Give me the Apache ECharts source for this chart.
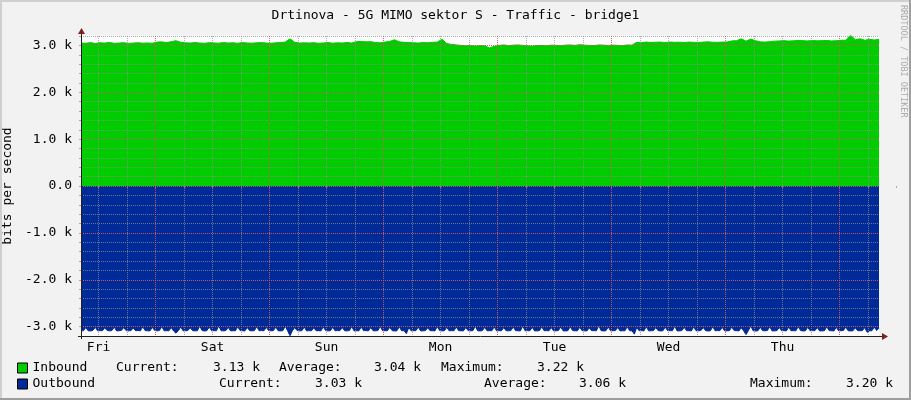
<!DOCTYPE html>
<html>
<head>
<meta charset="utf-8">
<script src="https://cdn.jsdelivr.net/npm/echarts@6/dist/echarts.min.js"></script>
<style>
html,body{margin:0;padding:0;background:#F2F2F2;}
#c{width:911px;height:400px;}
</style>
</head>
<body>
<div id="c"></div>
<script>
// ---- data (bits per second) ----
const titleText = 'Drtinova - 5G MIMO sektor S - Traffic - bridge1';
const yAxisName = 'bits per second';
const startHour = 8.3;            // hours since Friday 00:00 at left edge
const inboundStepHours = 1;
const outboundStepHours = 0.5;
const dayNames = ['Fri', 'Sat', 'Sun', 'Mon', 'Tue', 'Wed', 'Thu'];
const dayCenters = [12, 36, 60, 84, 108, 132, 156];
const minorHourStep = 6;          // grey grid every 6 hours
const majorHourStep = 24;         // red grid at midnight
const yMinorStep = 200;
const yMajorStep = 1000;
const yMajorTicks = [-3000, -2000, -1000, 0, 1000, 2000, 3000];
const seriesNames = ['Inbound', 'Outbound'];
const inboundStats = ['3.13 k', '3.04 k', '3.22 k'];
const outboundStats = ['3.03 k', '3.06 k', '3.20 k'];

const inbound = [
  3050,3045,3060,3040,3055,3050,3062,3045,3050,3058,3042,3050,3056,3048,3052,3045,
  3070,3075,3060,3080,3100,3065,3055,3050,3060,
  3050,3045,3058,3052,3048,3060,3050,3055,3045,3062,3050,3048,3055,3060,3050,3045,
  3055,3060,3070,3140,3065,3050,3055,
  3050,3058,3045,3052,3060,3048,3055,3050,3062,3050,
  3080,3085,3075,3080,3060,
  3055,3070,3085,3120,3075,3065,3060,3055,
  3050,3060,3055,3065,3070,
  3130,
  3040,3020,3010,3000,2990,3000,2985,2995,
  2990,2945,2980,3000,3010,2995,
  3005,3010,3000,2990,2985,2995,3000,2990,3005,3000,2995,3005,3010,3000,3015,3005,3000,2995,3010,3005,
  3000,3005,3000,2995,3010,3005,
  3065,3060,3070,3062,3068,3070,3060,3072,3065,3068,3060,3070,3065,3062,3070,3075,3068,3065,3070,3072,
  3095,3100,3140,3090,3135,3100,3075,3070,3080,
  3090,3095,3100,3092,3098,3105,3100,3095,3102,3098,3100,3105,3095,3100,3108,
  3110,3220,3120,3140,3110,3130,3115,3130
];

const outbound = [
  3085,3090,3020,3088, 3092,3080,3015,3090, 3085,3088,3025,3082, 3090,3085,3010,3092,
  3088,3080,3020,3085, 3090,3086,3030,3088, 3082,3090,3005,3085, 3088,3092,3015,3080,
  3090,3085,3000,3088, 3086,3090,3020,3092, 3140,3085,3010,3090, 3088,3082,3025,3086,
  3090,3088,2990,3085, 3092,3086,3010,3090, 3085,3090,2985,3088, 3090,3084,3015,3092,
  3086,3090,3005,3085, 3088,3092,3020,3086, 3090,3085,3000,3088, 3084,3090,3015,3085,
  3090,3086,3010,3088, 3092,3085,2990,3090, 3195,3088,3020,3085, 3090,3086,3010,3092,
  3085,3090,3025,3088, 3086,3092,3005,3085, 3090,3088,3015,3090, 3084,3086,3020,3088,
  3090,3085,3000,3092, 3088,3090,3010,3086, 3085,3092,3020,3088, 3090,3084,2995,3090,
  3086,3088,3015,3085, 3092,3090,3005,3088, 3085,3150,3020,3090, 3088,3086,3010,3092,
  3090,3085,3025,3088, 3086,3092,3000,3085, 3090,3088,3015,3090, 3085,3090,3010,3086,
  3088,3092,3020,3085, 3090,3086,2990,3088, 3092,3085,3015,3090, 3086,3088,3005,3092,
  3085,3090,3020,3088, 3090,3085,3010,3086, 3088,3092,2985,3090, 3085,3088,3015,3092,
  3090,3086,3005,3088, 3085,3090,3020,3092, 3088,3085,3010,3090, 3092,3086,3000,3085,
  3088,3090,3015,3086, 3090,3092,3025,3088, 3085,3090,2980,3086, 3092,3088,3010,3090,
  3086,3085,3020,3092, 3088,3090,3005,3086, 3090,3160,3015,3088, 3085,3092,3000,3090,
  3088,3086,3020,3085, 3092,3090,3010,3088, 3085,3088,2990,3092, 3090,3085,3015,3088,
  3086,3092,3005,3090, 3088,3085,3020,3086, 3092,3090,3000,3088, 3085,3086,3015,3092,
  3090,3088,3010,3085, 3086,3092,3025,3090, 3170,3085,2985,3088, 3092,3090,3015,3086,
  3088,3085,3005,3092, 3090,3086,3020,3088, 3085,3092,3010,3090, 3086,3088,3000,3085,
  3092,3090,3015,3088, 3085,3086,3020,3092, 3090,3088,3005,3085, 3088,3092,3015,3090,
  3086,3085,3010,3088, 3092,3090,3025,3086, 3088,3085,3020,3120, 3090,3088,3010,3085,
  3030
];

// ---- layout / style ----
const FONT = '"DejaVu Sans Mono", "Liberation Mono", monospace';
const GL = 81, GT = 36, GW = 798, GH = 300;
const GRID_C = 'rgba(143,143,143,0.75)';
const MGRID_C = 'rgba(222,79,79,0.75)';
const AXIS_C = '#1F1F1F';
const ARROW_C = '#801F1F';
const IN_C = '#00CC00';
const OUT_C = '#002A97';
const xMin = startHour;
const xMax = startHour + (inbound.length - 1) * inboundStepHours;
const yMin = -3200, yMax = 3200;

const inData = inbound.map((v, i) => [startHour + i * inboundStepHours, v]);
const outData = outbound.map((v, i) => [startHour + i * outboundStepHours, -v]);

// helper grids for grid lines: domains start on multiples of their interval
const pxPerHour = GW / (xMax - xMin);
const pxPerUnit = GH / (yMax - yMin);
const plotX = [xMin, xMax];
const plotY = [yMin, yMax];
const minorX = [Math.floor(xMin / minorHourStep) * minorHourStep, Math.ceil(xMax / minorHourStep) * minorHourStep];
const majorX = [Math.floor(xMin / majorHourStep) * majorHourStep, Math.ceil(xMax / majorHourStep) * majorHourStep];
const majorY = [Math.floor(yMin / yMajorStep) * yMajorStep, Math.ceil(yMax / yMajorStep) * yMajorStep];
function gridBox(xr, yr) {
  return {
    left: GL - (xMin - xr[0]) * pxPerHour,
    width: (xr[1] - xr[0]) * pxPerHour,
    top: GT - (yr[1] - yMax) * pxPerUnit,
    height: (yr[1] - yr[0]) * pxPerUnit,
    show: false, containLabel: false, outerBoundsMode: 'none'
  };
}

function yFmt(v) {
  if (v === 0) return '0.0';
  return (v / 1000).toFixed(1) + ' k';
}

const chart = echarts.init(document.getElementById('c'), null, {renderer: 'canvas'});

const txt = (x, y, s) => ({
  type: 'text', x: x, y: y, z: 10,
  style: {text: s, fill: '#000', font: '13px ' + FONT, verticalAlign: 'middle'}
});

const statsRow1 = [[116, 'Current:'], [213, inboundStats[0]], [279, 'Average:'], [374, inboundStats[1]], [441, 'Maximum:'], [537, inboundStats[2]]];
const statsRow2 = [[219, 'Current:'], [315, outboundStats[0]], [484, 'Average:'], [579, outboundStats[1]], [750, 'Maximum:'], [846, outboundStats[2]]];

const graphics = [
  {type: 'rect', shape: {x: 0, y: 0, width: 911, height: 2}, style: {fill: '#CFCFCF'}, z: 10},
  {type: 'rect', shape: {x: 0, y: 0, width: 2, height: 400}, style: {fill: '#CFCFCF'}, z: 10},
  {type: 'rect', shape: {x: 0, y: 398, width: 911, height: 2}, style: {fill: '#9E9E9E'}, z: 11},
  {type: 'rect', shape: {x: 909, y: 0, width: 2, height: 400}, style: {fill: '#9E9E9E'}, z: 11},
  // axis lines and arrows
  {type: 'line', shape: {x1: GL + 0.5, y1: GT + GH + 3, x2: GL + 0.5, y2: GT - 3}, style: {stroke: AXIS_C, lineWidth: 1}, z: 20},
  {type: 'line', shape: {x1: GL - 3, y1: GT + GH + 0.5, x2: GL + GW + 4, y2: GT + GH + 0.5}, style: {stroke: AXIS_C, lineWidth: 1}, z: 20},
  {type: 'polygon', shape: {points: [[GL - 3, GT - 2], [GL + 4, GT - 2], [GL + 0.5, GT - 8]]}, style: {fill: ARROW_C}, z: 21},
  {type: 'polygon', shape: {points: [[GL + GW + 3, GT + GH - 3], [GL + GW + 3, GT + GH + 4], [GL + GW + 9, GT + GH + 0.5]]}, style: {fill: ARROW_C}, z: 21},
  {type: 'text', x: 903, y: 5, rotation: -Math.PI / 2, z: 10,
   style: {text: 'RRDTOOL / TOBI OETIKER', fill: '#AAAAAA', font: '8.5px ' + FONT, verticalAlign: 'middle', align: 'left'}}
];
statsRow1.forEach(p => graphics.push(txt(p[0], 368, p[1])));
statsRow2.forEach(p => graphics.push(txt(p[0], 384, p[1])));

const dotted = (c) => ({color: c, type: [1, 1], width: 1, opacity: 1});
const hiddenAxis = {axisLine: {show: false}, axisTick: {show: false}, axisLabel: {show: false}};
const noSplit = {splitLine: {show: false}};

const option = {
  backgroundColor: '#F2F2F2',
  animation: false,
  title: {
    text: titleText, left: 'center', top: 4,
    textStyle: {fontFamily: FONT, fontSize: 13, fontWeight: 'normal', color: '#000'}
  },
  legend: {
    orient: 'vertical', left: 17, top: 360, itemWidth: 10, itemHeight: 10, itemGap: 0,
    padding: 0, icon: 'rect', data: seriesNames,
    itemStyle: {borderColor: '#000', borderWidth: 1},
    textStyle: {fontFamily: FONT, fontSize: 13, color: '#000', lineHeight: 16},
    selectedMode: false
  },
  grid: [
    {left: GL, top: GT, width: GW, height: GH, show: true, backgroundColor: '#FFFFFF', borderWidth: 0,
      containLabel: false, outerBoundsMode: 'none'},
    gridBox(minorX, plotY),   // 1: grey verticals every 6 h
    gridBox(majorX, plotY),   // 2: red verticals at midnight
    gridBox(plotX, majorY)    // 3: red horizontals every 1 k
  ],
  xAxis: [
    {
      type: 'value', gridIndex: 0, min: xMin, max: xMax, position: 'bottom', z: 5,
      axisLine: {show: false}, axisTick: {show: false}, splitLine: {show: false},
      axisLabel: {customValues: dayCenters, formatter: v => dayNames[dayCenters.indexOf(v)],
        fontFamily: FONT, fontSize: 13, color: '#000', margin: 5}
    },
    {
      type: 'value', gridIndex: 1, min: minorX[0], max: minorX[1], interval: minorHourStep, position: 'bottom', z: 4,
      axisLine: {show: false}, axisLabel: {show: false},
      axisTick: {show: true, length: 2, lineStyle: {color: GRID_C}},
      splitLine: {show: true, showMinLine: false, showMaxLine: false, lineStyle: dotted(GRID_C)}
    },
    Object.assign({
      type: 'value', gridIndex: 2, min: majorX[0], max: majorX[1], interval: majorHourStep, z: 5,
      splitLine: {show: true, showMinLine: false, showMaxLine: false, lineStyle: dotted(MGRID_C)}
    }, hiddenAxis),
    Object.assign({type: 'value', gridIndex: 3, min: xMin, max: xMax}, hiddenAxis, noSplit)
  ],
  yAxis: [
    {
      type: 'value', gridIndex: 0, min: yMin, max: yMax, interval: yMinorStep, position: 'left', z: 4,
      name: yAxisName, nameLocation: 'middle', nameRotate: 90, nameGap: 63,
      nameTextStyle: {fontFamily: FONT, fontSize: 13, color: '#000'},
      axisLine: {show: false},
      axisTick: {show: true, length: 2, lineStyle: {color: GRID_C}},
      axisLabel: {customValues: yMajorTicks, formatter: yFmt, fontFamily: FONT, fontSize: 13, color: '#000', margin: 9},
      splitLine: {show: true, showMinLine: false, lineStyle: dotted(GRID_C)}
    },
    Object.assign({type: 'value', gridIndex: 1, min: yMin, max: yMax}, hiddenAxis, noSplit),
    Object.assign({type: 'value', gridIndex: 2, min: yMin, max: yMax}, hiddenAxis, noSplit),
    Object.assign({
      type: 'value', gridIndex: 3, min: majorY[0], max: majorY[1], interval: yMajorStep, z: 5,
      splitLine: {show: true, showMinLine: false, showMaxLine: false, lineStyle: dotted(MGRID_C)}
    }, hiddenAxis)
  ],
  series: [
    {
      name: seriesNames[0], type: 'line', data: inData, xAxisIndex: 0, yAxisIndex: 0,
      symbol: 'none', z: 2, color: IN_C,
      itemStyle: {color: IN_C},
      lineStyle: {color: IN_C, width: 1},
      areaStyle: {color: IN_C, opacity: 1}
    },
    {
      name: seriesNames[1], type: 'line', data: outData, xAxisIndex: 0, yAxisIndex: 0,
      symbol: 'none', z: 2, color: OUT_C,
      itemStyle: {color: OUT_C},
      lineStyle: {color: OUT_C, width: 1},
      areaStyle: {color: OUT_C, opacity: 1}
    }
  ],
  graphic: graphics
};
chart.setOption(option);
</script>
</body>
</html>
